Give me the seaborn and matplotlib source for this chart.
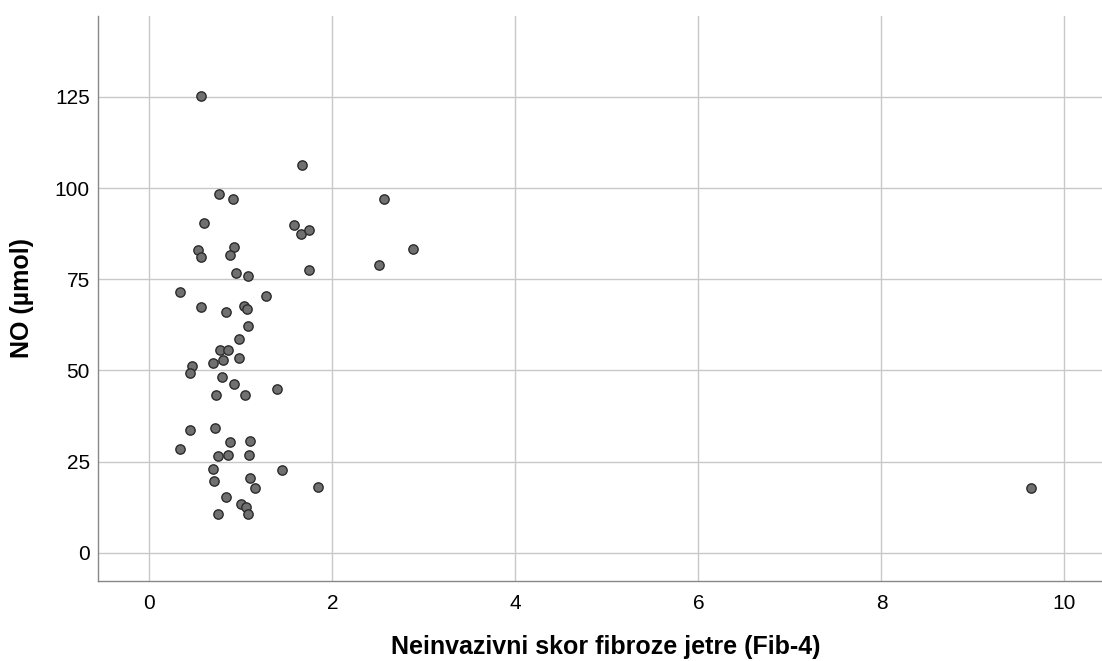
import numpy as np
import pandas as pd
import matplotlib
matplotlib.use("Agg")
import matplotlib.pyplot as plt
import seaborn as sns

# Fib-4 skor i NO vrijednosti ocitane sa grafika
fib4 = [0.57, 1.67, 0.76, 0.91, 0.60, 1.58, 1.66, 1.74,
        0.53, 0.57, 0.92, 0.88, 1.74, 0.95, 1.08, 0.33, 1.28, 0.57, 1.03, 1.07,
        0.84, 1.08, 0.98, 0.77, 0.86, 0.98, 0.80, 0.70, 0.47, 0.44, 0.79, 0.92,
        1.39, 0.73, 1.04,
        0.44, 0.72, 0.88, 1.10, 0.33, 0.75, 0.86, 1.09, 0.70, 1.45, 0.71, 1.10,
        1.15, 1.84, 0.84, 1.00, 1.06, 0.75, 1.08,
        2.56, 2.88, 2.51, 9.63]
no_umol = [125.1, 106.2, 98.5, 97.1, 90.3, 89.8, 87.5, 88.6,
           82.9, 81.0, 83.8, 81.7, 77.5, 76.6, 75.9, 71.6, 70.4, 67.5, 67.7, 66.8,
           65.9, 62.1, 58.7, 55.7, 55.7, 53.4, 53.0, 52.1, 51.3, 49.4, 48.1, 46.3,
           45.0, 43.3, 43.3,
           33.8, 34.3, 30.5, 30.6, 28.4, 26.5, 26.9, 26.9, 22.9, 22.8, 19.8, 20.4,
           17.8, 18.2, 15.4, 13.4, 12.6, 10.6, 10.8,
           97.0, 83.2, 78.8, 17.9]

df = pd.DataFrame({'fib4': fib4, 'no': no_umol})

sns.set_style('white')
plt.rcParams['font.family'] = ['Liberation Sans', 'DejaVu Sans']

fig = plt.figure(figsize=(11.02, 6.61), dpi=100)
ax = fig.add_axes([0.089, 0.121, 0.911, 0.855])

sns.scatterplot(data=df, x='fib4', y='no', ax=ax, color='#707070',
                edgecolor='#2b2b2b', linewidth=1.0, s=45, zorder=3)

ax.set_xlim(-0.56, 10.41)
ax.set_ylim(-7.7, 147.2)
ax.set_xticks([0, 2, 4, 6, 8, 10])
ax.set_yticks([0, 25, 50, 75, 100, 125])
ax.grid(True, color='#c8c8c8', linewidth=1.0)
ax.set_axisbelow(True)
for s in ['top', 'right']:
    ax.spines[s].set_visible(False)
for s in ['left', 'bottom']:
    ax.spines[s].set_color('#888888')
    ax.spines[s].set_linewidth(1.0)
ax.tick_params(length=0, labelsize=15, labelcolor='black')
ax.tick_params(axis='y', pad=6)
ax.tick_params(axis='x', pad=9)

ax.set_xlabel('Neinvazivni skor fibroze jetre (Fib-4)', fontsize=18,
              fontweight='bold', color='black')
ax.set_ylabel('NO (µmol)', fontsize=18, fontweight='bold', color='black')
ax.xaxis.set_label_coords(0.506, -0.096)
ax.yaxis.set_label_coords(-0.064, 0.5)

fig.savefig('out.png', dpi=100)
